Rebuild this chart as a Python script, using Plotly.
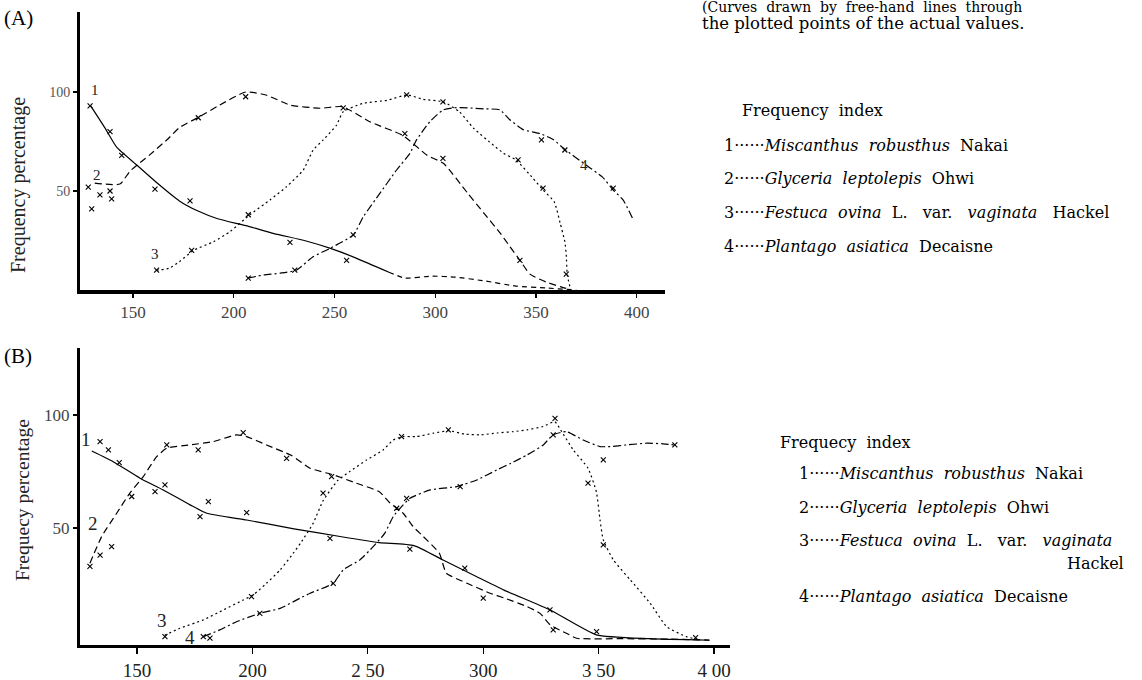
import plotly.graph_objects as go

W, H = 1142, 680

# ---------------- Panel A data ----------------
a_x1 = [129, 136, 142, 152, 162, 173, 182, 192, 206, 220, 235, 248, 261, 277]
a_y1 = [93, 82, 72, 63, 54, 45, 40, 36, 32.5, 28.5, 25, 21, 16, 9]
a_x1_tail = [277, 285, 298, 310, 325, 340, 355, 370]
a_y1_tail = [9, 6, 7, 6.5, 4.5, 2, 1, 0]

a_x2 = [131, 143.5, 148.5, 158, 167, 173, 183, 193, 206, 216, 228, 243, 254, 267.5,
        284, 296, 304, 316, 324, 332, 337, 342, 347, 355, 362, 366]
a_y2 = [54, 53.5, 60, 68, 76, 82, 87.5, 93.4, 100, 98.5, 93.4, 91.8, 92.6, 85,
        78, 68, 64, 49, 39, 29, 22, 15, 8, 4, 1.7, 0.5]

a_x3 = [161.7, 168, 173, 180, 190, 198, 208, 218, 226, 234.5, 239.4, 244.4, 251, 254.3,
        264.3, 276, 286, 294, 304, 312, 319, 329, 334, 340, 348.5, 353.5, 359, 362,
        364.3, 365, 365.5, 367]
a_y3 = [10, 11, 14.3, 20, 24.4, 29.4, 38, 45.5, 52, 60.6, 70.7, 75.8, 83.3, 90,
        94.3, 95.8, 98.5, 96.3, 95, 90, 81.7, 73, 69, 65.7, 56.4, 50.5, 44.6, 33.7,
        24.4, 17.7, 7.6, 1]

a_x4 = [207, 215, 223, 231, 239.4, 247.7, 259.3, 264.3, 272.5, 280.8, 287.4, 290.7,
        297.3, 303.8, 309, 316, 324, 332, 337, 343.6, 352, 358.5, 364.3, 375, 383,
        388.3, 393.2, 398]
a_y4 = [6, 7.6, 8.5, 10, 16.8, 21, 27.8, 37, 48.8, 60.6, 69, 75.8,
        85, 90.9, 92, 92, 91.5, 91, 86, 81, 79, 76, 71, 63, 57,
        50.5, 45.5, 36]

# observed points (x marks), panel A
a_ox1 = [128.7, 138.6, 144.4, 160.9, 178.3, 227.9, 256.0]
a_oy1 = [93, 80, 68, 51, 45, 24, 15]
a_ox2 = [127.8, 129.5, 133.6, 138.6, 139.4, 182.4, 205.9, 254.3, 284.9, 303.8, 342]
a_oy2 = [52, 41, 48, 50, 46, 87, 97.6, 92, 79, 66.5, 15]
a_ox3 = [161.7, 179.1, 207.2, 285.8, 303.8, 341.1, 353.5, 365]
a_oy3 = [10, 20, 38, 98.5, 95, 65.7, 51.4, 8]
a_ox4 = [207.2, 230.3, 259.3, 352.7, 364.3, 388.3]
a_oy4 = [6, 10, 27.8, 75.8, 70.7, 51.4]

# ---------------- Panel B data ----------------
b_x1 = [130.4, 139.7, 151.3, 161.4, 173, 180.2, 197.5, 218, 238, 255, 270, 282.6,
        297, 309, 329, 349, 372, 398]
b_y1 = [84, 79.3, 72, 66.8, 60.2, 56.5, 53.5, 49.6, 46.2, 43.5, 42.2, 35.8,
        28.5, 22.5, 13.7, 2.7, 1, 0.3]

b_x2 = [129.6, 134.7, 141.2, 146.9, 152.7, 158.5, 162.9, 172.9, 183, 193.1, 197.5,
        206.1, 217, 225, 235, 245, 255, 259.6, 265.3, 269.6, 274, 281, 284, 293,
        303, 309, 319, 324.6, 329, 336, 340.5, 360, 380, 398]
b_y2 = [34.4, 46.2, 56.5, 65.4, 72.7, 81.5, 85.3, 86.7, 88.2, 91.2, 90.4,
        86.7, 82, 76.4, 73.5, 69.8, 66, 61, 56.5, 50.6, 46.2, 38.8, 30, 25.5,
        21.1, 19, 15.2, 12.2, 7.1, 3.4, 1.2, 1, 0.8, 0.4]

b_x3 = [162, 168.6, 178.7, 187.4, 196, 200.4, 206.1, 212, 217.7, 221, 226.3, 230.6,
        237, 242.2, 249.4, 256.6, 261, 265.3, 271, 278.4, 285, 292, 299, 306, 313,
        319, 326, 331, 333.5, 339, 345.4, 349, 350.6, 352, 356.4, 363.7, 372.3,
        379.5, 388, 394]
b_y3 = [2.5, 5.6, 9.3, 13.7, 18.1, 20.4, 25.5, 31.4, 38.8, 43.5, 52, 62,
        71, 75, 80, 84.5, 88.9, 90.4, 90.4, 91.9, 93, 91.5, 91.2, 92, 92.6,
        93.4, 94.9, 97, 93.4, 84.5, 76.4, 66, 53.5, 44.7, 35.8, 27, 16.7,
        6.3, 1.9, 0.5]

b_x4 = [178.7, 185.9, 193.1, 203.2, 212, 220.6, 225, 235, 239.3, 246.5, 252.3, 257.3,
        261, 264, 268.2, 277, 288.5, 297.2, 306, 312, 319, 326, 330.3, 336, 343.3,
        350.6, 355, 362, 371, 378, 383]
b_y4 = [1.9, 4.9, 8.5, 12.2, 14.4, 18.9, 21.1, 25.5, 31.4, 35.8, 41.7, 47.6,
        55, 58.7, 63.1, 66.8, 68.3, 71.2, 75.7, 78.6, 82.3, 86.7, 91.2, 92.6, 88.9,
        86, 86, 86.7, 87.5, 87.2, 86.7]

# observed points (x marks), panel B
b_ox1 = [134, 137.6, 142.3, 157.8, 162.1, 177.3, 180.9, 197.5, 233.6, 268.2, 292, 328.9, 349.1]
b_oy1 = [88.2, 84.5, 78.9, 66.1, 69, 55, 61.6, 56.8, 45.4, 40.6, 32.2, 13.7, 4.1]
b_ox2 = [129.6, 134, 139, 147.7, 162.9, 176.5, 196, 214.8, 234.3, 262.5, 300, 330.3]
b_oy2 = [33, 38, 41.7, 63.9, 86.7, 84.5, 92.2, 80.8, 72.7, 58.7, 18.9, 4.9]
b_ox3 = [162.1, 199.6, 230.6, 264.6, 284.9, 331.1, 345.4, 352, 392]
b_oy3 = [1.9, 19.6, 65.4, 90.4, 93.4, 98.5, 69.8, 42.5, 1.5]
b_ox4 = [178.7, 181.6, 203.2, 235, 266.8, 290, 330.3, 352, 383]
b_oy4 = [1.9, 1.2, 12.2, 25.5, 63.1, 68.3, 91.2, 80.1, 86.7]

x_ticks = [150, 200, 250, 300, 350, 400]
a_x_ticktext = ["150", "200", "250", "300", "350", "400"]
b_x_ticktext = ["150", "200", "2 50", "300", "3 50", "4 00"]
y_ticks = [50, 100]
y_ticktext = ["50", "100"]

species = [
    "<i>Miscanthus  robusthus</i>  Nakai",
    "<i>Glyceria  leptolepis</i>  Ohwi",
    "<i>Festuca  ovina</i>  L.   var.   <i>vaginata</i>   Hackel",
    "<i>Plantago  asiatica</i>  Decaisne",
]

# ---------------- figure ----------------
SERIF = "Liberation Serif, Times New Roman, serif"
SERIF2 = "DejaVu Serif, serif"
fig = go.Figure()

dash1 = "solid"
dash2 = "7px,4px"
dash3 = "2px,3px"
dash4 = "8px,3px,2px,3px"
LW = 1.2


def add_line(x, y, dash, xa, ya):
    fig.add_trace(go.Scatter(x=x, y=y, mode="lines", xaxis=xa, yaxis=ya,
                             line=dict(color="black", width=LW, dash=dash,
                                       shape="spline", smoothing=0.5),
                             showlegend=False, hoverinfo="skip"))


def add_marks(x, y, xa, ya):
    fig.add_trace(go.Scatter(x=x, y=y, mode="markers", xaxis=xa, yaxis=ya,
                             marker=dict(symbol="x-thin", size=5, color="black",
                                         line=dict(width=1.1, color="black")),
                             showlegend=False, hoverinfo="skip"))


add_line(a_x1, a_y1, dash1, "x", "y")
add_line(a_x1_tail, a_y1_tail, "5px,4px", "x", "y")
add_line(a_x2, a_y2, dash2, "x", "y")
add_line(a_x3, a_y3, dash3, "x", "y")
add_line(a_x4, a_y4, dash4, "x", "y")
for ox, oy in [(a_ox1, a_oy1), (a_ox2, a_oy2), (a_ox3, a_oy3), (a_ox4, a_oy4)]:
    add_marks(ox, oy, "x", "y")

add_line(b_x1, b_y1, dash1, "x2", "y2")
add_line(b_x2, b_y2, dash2, "x2", "y2")
add_line(b_x3, b_y3, dash3, "x2", "y2")
add_line(b_x4, b_y4, dash4, "x2", "y2")
for ox, oy in [(b_ox1, b_oy1), (b_ox2, b_oy2), (b_ox3, b_oy3), (b_ox4, b_oy4)]:
    add_marks(ox, oy, "x2", "y2")


def px(x):
    return x / W


def py(y):
    return 1 - y / H


axis_common = dict(showgrid=False, zeroline=False, showline=True, linecolor="black",
                   ticks="outside", tickwidth=1.3, tickcolor="black",
                   fixedrange=True)

fig.update_layout(
    width=W, height=H,
    margin=dict(l=0, r=0, t=0, b=0),
    paper_bgcolor="white", plot_bgcolor="white",
    font=dict(family=SERIF, color="black"),
    xaxis=dict(domain=[px(80), px(665)], range=[123.7, 414], anchor="y",
               tickvals=x_ticks, ticktext=a_x_ticktext, linewidth=3.5, ticklen=4,
               tickfont=dict(size=17, color="#444", family=SERIF), **axis_common),
    yaxis=dict(domain=[py(290), py(12)], range=[0, 140.4], anchor="x",
               tickvals=y_ticks, ticktext=y_ticktext, linewidth=3, ticklen=4,
               tickfont=dict(size=14, color="#555", family=SERIF), **axis_common),
    xaxis2=dict(domain=[px(80), px(730)], range=[125.3, 406.9], anchor="y2",
                tickvals=x_ticks, ticktext=b_x_ticktext, linewidth=3, ticklen=6,
                tickfont=dict(size=19, color="#222", family=SERIF), **axis_common),
    yaxis2=dict(domain=[py(645), py(348)], range=[-1.8, 129.6], anchor="x2",
                tickvals=y_ticks, ticktext=y_ticktext, linewidth=3, ticklen=4,
                tickfont=dict(size=17, color="#444", family=SERIF), **axis_common),
)

ann = []


def text(x, y, s, size=15, xanchor="left", yanchor="middle", angle=0, color="black",
         family=SERIF2):
    ann.append(dict(x=px(x), y=py(y), xref="paper", yref="paper", text=s,
                    showarrow=False, xanchor=xanchor, yanchor=yanchor, textangle=angle,
                    font=dict(size=size, family=family, color=color)))


# panel labels
text(2, 18, "(A)", size=21, family=SERIF)
text(2, 356, "(B)", size=21, family=SERIF)
# y-axis titles
text(19, 185, "Frequency percentage", size=20, xanchor="center", angle=-90,
     color="#222", family=SERIF)
text(22, 500, "Frequecy percentage", size=19.5, xanchor="center", angle=-90,
     color="#222", family=SERIF)

# top note
text(700, 7, "(Curves  drawn  by  free-hand  lines  through", size=14)
text(700, 24, "the plotted points of the actual values.", size=16.5)

# legend A
text(740, 111, "Frequency  index", size=16)
for i, sp in enumerate(species):
    text(722, 145 + i * 33.7, f"{i + 1}······{sp}", size=16)

# legend B
text(778, 442, "Frequecy  index", size=16)
text(797, 473, f"1······{species[0]}", size=16)
text(797, 507, f"2······{species[1]}", size=16)
text(797, 540, "3······<i>Festuca  ovina</i>  L.   var.   <i>vaginata</i>", size=16)
text(1126, 563, "Hackel", size=16, xanchor="right")
text(797, 596, f"4······{species[3]}", size=16)

# curve number labels (data coordinates)
a_lab = [("1", 131, 101), ("2", 132, 58), ("3", 161, 18), ("4", 374, 63)]
b_lab = [("1", 128, 89), ("2", 131, 52), ("3", 161, 9), ("4", 173, 1.5)]
for s, x, y in a_lab:
    ann.append(dict(x=x, y=y, xref="x", yref="y", text=s, showarrow=False,
                    font=dict(size=15, family=SERIF, color="#222")))
for s, x, y in b_lab:
    ann.append(dict(x=x, y=y, xref="x2", yref="y2", text=s, showarrow=False,
                    font=dict(size=19, family=SERIF, color="#222")))

fig.update_layout(annotations=ann)

fig.write_html(
    "out.html",
    config={"displayModeBar": False, "staticPlot": True},
    post_script="document.body.style.margin='0';document.body.style.overflow='hidden';",
)
